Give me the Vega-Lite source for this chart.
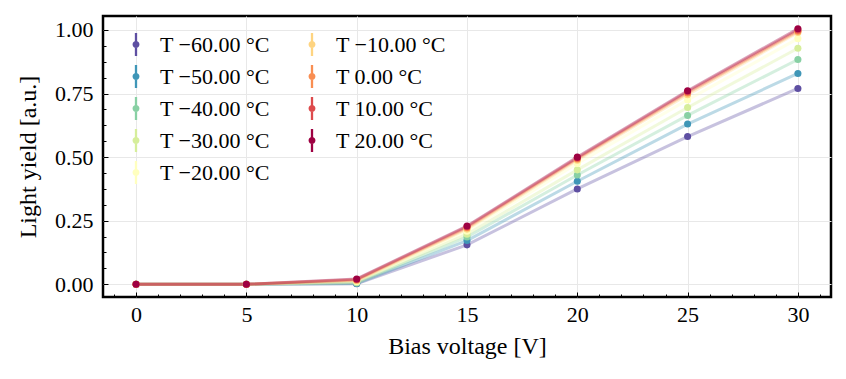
{
  "$schema": "https://vega.github.io/schema/vega-lite/v6.json",
  "autosize": "none",
  "width": 728,
  "height": 281,
  "padding": {"left": 103, "top": 16, "right": 15, "bottom": 82},
  "background": "white",
  "config": {
    "font": "Liberation Serif",
    "view": {"stroke": "black", "strokeWidth": 2.5},
    "axis": {
      "labelFont": "Liberation Serif",
      "titleFont": "Liberation Serif",
      "labelFontSize": 22,
      "titleFontSize": 24,
      "titleFontWeight": "normal",
      "labelColor": "black",
      "titleColor": "black",
      "tickColor": "black",
      "tickWidth": 1,
      "domain": false,
      "gridColor": "#e8e8e8",
      "gridWidth": 1
    },
    "legend": {
      "labelFont": "Liberation Serif",
      "labelFontSize": 22,
      "labelColor": "black"
    }
  },
  "data": {
    "values": [
      {"V": 0, "T": "T −60.00 °C", "LY": 0.0},
      {"V": 5, "T": "T −60.00 °C", "LY": 0.0},
      {"V": 10, "T": "T −60.00 °C", "LY": 0.002},
      {"V": 15, "T": "T −60.00 °C", "LY": 0.155},
      {"V": 20, "T": "T −60.00 °C", "LY": 0.375},
      {"V": 25, "T": "T −60.00 °C", "LY": 0.581},
      {"V": 30, "T": "T −60.00 °C", "LY": 0.770},
      {"V": 0, "T": "T −50.00 °C", "LY": 0.0},
      {"V": 5, "T": "T −50.00 °C", "LY": 0.0},
      {"V": 10, "T": "T −50.00 °C", "LY": 0.003},
      {"V": 15, "T": "T −50.00 °C", "LY": 0.172},
      {"V": 20, "T": "T −50.00 °C", "LY": 0.405},
      {"V": 25, "T": "T −50.00 °C", "LY": 0.630},
      {"V": 30, "T": "T −50.00 °C", "LY": 0.829},
      {"V": 0, "T": "T −40.00 °C", "LY": 0.0},
      {"V": 5, "T": "T −40.00 °C", "LY": 0.0},
      {"V": 10, "T": "T −40.00 °C", "LY": 0.005},
      {"V": 15, "T": "T −40.00 °C", "LY": 0.186},
      {"V": 20, "T": "T −40.00 °C", "LY": 0.430},
      {"V": 25, "T": "T −40.00 °C", "LY": 0.664},
      {"V": 30, "T": "T −40.00 °C", "LY": 0.884},
      {"V": 0, "T": "T −30.00 °C", "LY": 0.0},
      {"V": 5, "T": "T −30.00 °C", "LY": 0.0},
      {"V": 10, "T": "T −30.00 °C", "LY": 0.008},
      {"V": 15, "T": "T −30.00 °C", "LY": 0.197},
      {"V": 20, "T": "T −30.00 °C", "LY": 0.450},
      {"V": 25, "T": "T −30.00 °C", "LY": 0.695},
      {"V": 30, "T": "T −30.00 °C", "LY": 0.928},
      {"V": 0, "T": "T −20.00 °C", "LY": 0.0},
      {"V": 5, "T": "T −20.00 °C", "LY": 0.0},
      {"V": 10, "T": "T −20.00 °C", "LY": 0.011},
      {"V": 15, "T": "T −20.00 °C", "LY": 0.209},
      {"V": 20, "T": "T −20.00 °C", "LY": 0.475},
      {"V": 25, "T": "T −20.00 °C", "LY": 0.725},
      {"V": 30, "T": "T −20.00 °C", "LY": 0.966},
      {"V": 0, "T": "T −10.00 °C", "LY": 0.0},
      {"V": 5, "T": "T −10.00 °C", "LY": 0.0},
      {"V": 10, "T": "T −10.00 °C", "LY": 0.014},
      {"V": 15, "T": "T −10.00 °C", "LY": 0.217},
      {"V": 20, "T": "T −10.00 °C", "LY": 0.488},
      {"V": 25, "T": "T −10.00 °C", "LY": 0.745},
      {"V": 30, "T": "T −10.00 °C", "LY": 0.990},
      {"V": 0, "T": "T 0.00 °C", "LY": 0.0},
      {"V": 5, "T": "T 0.00 °C", "LY": 0.0},
      {"V": 10, "T": "T 0.00 °C", "LY": 0.017},
      {"V": 15, "T": "T 0.00 °C", "LY": 0.222},
      {"V": 20, "T": "T 0.00 °C", "LY": 0.493},
      {"V": 25, "T": "T 0.00 °C", "LY": 0.752},
      {"V": 30, "T": "T 0.00 °C", "LY": 0.995},
      {"V": 0, "T": "T 10.00 °C", "LY": 0.0},
      {"V": 5, "T": "T 10.00 °C", "LY": 0.0},
      {"V": 10, "T": "T 10.00 °C", "LY": 0.019},
      {"V": 15, "T": "T 10.00 °C", "LY": 0.226},
      {"V": 20, "T": "T 10.00 °C", "LY": 0.497},
      {"V": 25, "T": "T 10.00 °C", "LY": 0.757},
      {"V": 30, "T": "T 10.00 °C", "LY": 1.000},
      {"V": 0, "T": "T 20.00 °C", "LY": 0.0},
      {"V": 5, "T": "T 20.00 °C", "LY": 0.0},
      {"V": 10, "T": "T 20.00 °C", "LY": 0.021},
      {"V": 15, "T": "T 20.00 °C", "LY": 0.229},
      {"V": 20, "T": "T 20.00 °C", "LY": 0.500},
      {"V": 25, "T": "T 20.00 °C", "LY": 0.761},
      {"V": 30, "T": "T 20.00 °C", "LY": 1.005}
    ]
  },
  "encoding": {
    "x": {
      "field": "V", "type": "quantitative",
      "scale": {"domain": [-1.5, 31.5], "nice": false, "zero": false},
      "axis": {
        "title": "Bias voltage [V]",
        "values": [-1,0,1,2,3,4,5,6,7,8,9,10,11,12,13,14,15,16,17,18,19,20,21,22,23,24,25,26,27,28,29,30,31],
        "labelExpr": "datum.value % 5 === 0 ? format(datum.value, 'd') : ''",
        "tickSize": {"condition": {"test": "datum.value % 5 === 0", "value": -5}, "value": -3},
        "gridOpacity": {"condition": {"test": "datum.value % 5 === 0", "value": 1}, "value": 0},
        "labelPadding": 12,
        "labelFlush": false,
        "labelOverlap": false,
        "titlePadding": 7
      }
    },
    "y": {
      "field": "LY", "type": "quantitative",
      "scale": {"domain": [-0.05, 1.055], "nice": false, "zero": false},
      "axis": {
        "title": "Light yield [a.u.]",
        "values": [0,0.0625,0.125,0.1875,0.25,0.3125,0.375,0.4375,0.5,0.5625,0.625,0.6875,0.75,0.8125,0.875,0.9375,1.0],
        "labelExpr": "abs(datum.value*4 - round(datum.value*4)) < 0.000001 ? format(datum.value, '.2f') : ''",
        "tickSize": {"condition": {"test": "abs(datum.value*4 - round(datum.value*4)) < 0.000001", "value": -5}, "value": -3},
        "gridOpacity": {"condition": {"test": "abs(datum.value*4 - round(datum.value*4)) < 0.000001", "value": 1}, "value": 0},
        "labelPadding": 15,
        "labelFlush": false,
        "labelOverlap": false,
        "titlePadding": 14
      }
    },
    "color": {
      "field": "T", "type": "nominal",
      "scale": {
        "domain": ["T −60.00 °C", "T −50.00 °C", "T −40.00 °C", "T −30.00 °C", "T −20.00 °C", "T −10.00 °C", "T 0.00 °C", "T 10.00 °C", "T 20.00 °C"],
        "range": ["#5e4fa2", "#3f96b7", "#88d0a4", "#d6ee9b", "#ffffbf", "#fed481", "#f98e52", "#dd4a4c", "#9e0142"]
      },
      "legend": {
        "title": null,
        "orient": "none",
        "legendX": 21.5,
        "legendY": 17,
        "columns": 2,
        "columnPadding": 30,
        "rowPadding": 9,
        "padding": 0,
        "symbolType": "M-0.3,0A0.3,0.3,0,1,0,0.3,0A0.3,0.3,0,1,0,-0.3,0Z M-0.1,-1L-0.1,1L0.1,1L0.1,-1Z",
        "symbolSize": 529,
        "symbolStrokeWidth": 0,
        "symbolOpacity": 1,
        "labelOffset": 12.5,
        "encode": {"symbols": {"update": {"fill": {"scale": "color", "field": "value"}, "opacity": {"value": 1}, "strokeWidth": {"value": 0}}}}
      }
    }
  },
  "layer": [
    {"mark": {"type": "line", "strokeWidth": 3, "opacity": 0.35}},
    {"mark": {"type": "point", "filled": true, "size": 50, "opacity": 1}}
  ]
}
